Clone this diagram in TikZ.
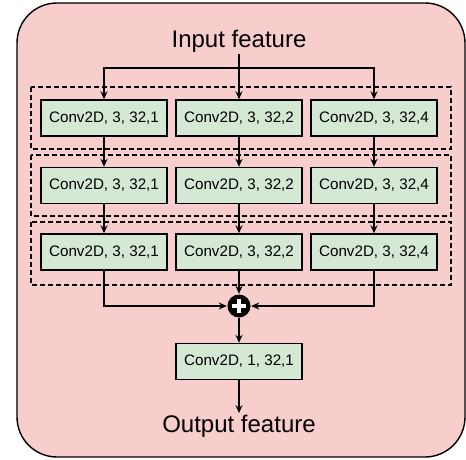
\documentclass[tikz,border=0pt]{standalone}
\usepackage{fontspec}
\setmainfont{Liberation Sans}
\usetikzlibrary{positioning, arrows.meta}
\definecolor{BlockRed}{RGB}{248, 206, 204}
\definecolor{ConvGreen}{RGB}{213, 232, 212}

\begin{document}
\begin{tikzpicture}[x=1pt, y=-1pt, line width=1.4pt,
    >={Stealth[length=8pt, width=7pt]},
    conv/.style={draw, fill=ConvGreen, minimum width=126pt, minimum height=36pt,
      inner sep=0pt, font=\fontsize{15.2}{17}\selectfont},
    label/.style={inner sep=1pt, font=\fontsize{24}{28}\selectfont},
    group/.style={draw, dash pattern=on 5pt off 3pt}]
    \useasboundingbox (0,0) rectangle (466,460);

    % Outer block
    \draw[fill=BlockRed, rounded corners=40pt] (17,3) rectangle (465,457);

    % Dilated branches, three stacked layers
    \foreach \r/\y in {1/118, 2/185.5, 3/252} {
        \node[conv] (b\r1) at (104,\y) {Conv2D, 3, 32,1};
        \node[conv] (b\r2) at (239,\y) {Conv2D, 3, 32,2};
        \node[conv] (b\r3) at (374,\y) {Conv2D, 3, 32,4};
    }
    \draw[group] (31,87) rectangle (451,149);
    \draw[group] (31,155) rectangle (451,216);
    \draw[group] (31,222) rectangle (451,285);

    % Input and split
    \node[label] (inp) at (239,41) {Input feature};
    \coordinate (split) at (239,68);
    \draw[->] (inp) -- (b12);
    \draw[->] (split) -| (b11);
    \draw[->] (split) -| (b13);

    % Layer to layer
    \foreach \c in {1,2,3} {
        \draw[->] (b1\c) -- (b2\c);
        \draw[->] (b2\c) -- (b3\c);
    }

    % Sum
    \node[circle, fill=black, minimum size=23pt, inner sep=0pt] (sum) at (239,306) {};
    \draw[white, line width=3.5pt] ([xshift=-7pt]sum.center) -- ([xshift=7pt]sum.center);
    \draw[white, line width=3.5pt] ([yshift=-7pt]sum.center) -- ([yshift=7pt]sum.center);
    \draw[->] (b31) |- (sum);
    \draw[->] (b33) |- (sum);
    \draw[->] (b32) -- (sum);

    % Fusion and output
    \node[conv] (fuse) at (239,361.5) {Conv2D, 1, 32,1};
    \node[label] (out) at (239,426) {Output feature};
    \draw[->] (sum) -- (fuse);
    \draw[->] (fuse) -- (out);
\end{tikzpicture}
\end{document}
